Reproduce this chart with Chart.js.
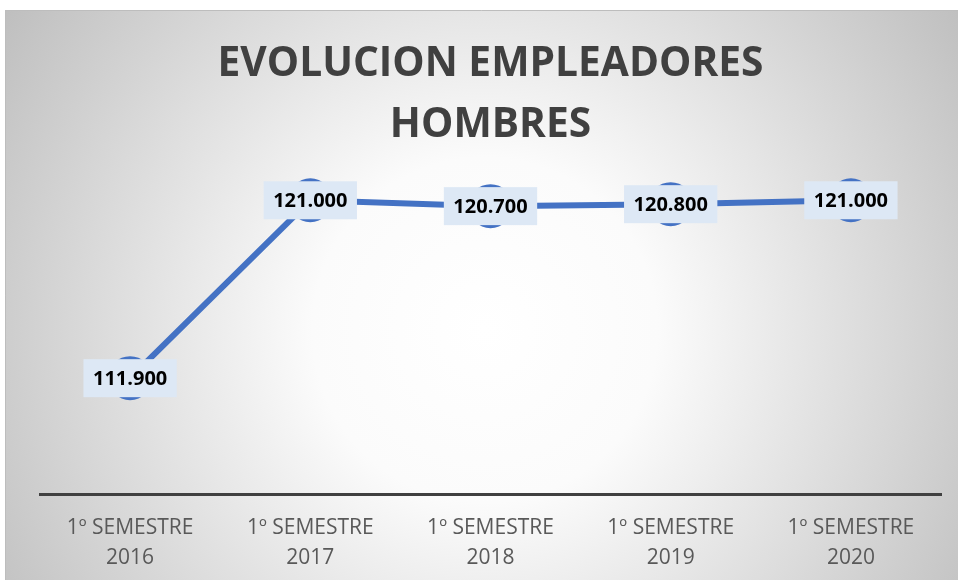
<!DOCTYPE html>
<html>
<head>
<meta charset="utf-8">
<script src="https://cdn.jsdelivr.net/npm/chart.js@4/dist/chart.umd.min.js"></script>
<style>
  html, body { margin: 0; padding: 0; background: #fff; }
  #wrap { width: 958px; height: 580px; position: relative; }
</style>
</head>
<body>
<div id="wrap"><canvas id="chart"></canvas></div>
<script>
// data
const semestres = [
    ['1º SEMESTRE', '2016'],
    ['1º SEMESTRE', '2017'],
    ['1º SEMESTRE', '2018'],
    ['1º SEMESTRE', '2019'],
    ['1º SEMESTRE', '2020']
]
const empleadores = [111900, 121000, 120700, 120800, 121000]
const titulo = ['EVOLUCION EMPLEADORES', 'HOMBRES']

const blue = '#4472C4'
const fontName = "'Open Sans', 'Liberation Sans', sans-serif"

// 121000 -> "121.000"
function fmt(v) {
    return v.toLocaleString('de-DE')
}

const background = {
    id: 'background',
    beforeDraw(chart) {
        const ctx = chart.ctx
        ctx.save()
        ctx.fillStyle = '#ffffff'
        ctx.fillRect(0, 0, chart.width, chart.height)
        const g = ctx.createRadialGradient(485, 330, 0, 485, 330, 575)
        g.addColorStop(0, '#ffffff')
        g.addColorStop(0.3, '#fbfbfb')
        g.addColorStop(1, '#bfbfbf')
        ctx.fillStyle = g
        ctx.fillRect(5, 10, chart.width - 5, chart.height - 10)
        ctx.strokeStyle = '#bdbdbd'
        ctx.lineWidth = 1
        ctx.beginPath()
        ctx.moveTo(5.5, chart.height)
        ctx.lineTo(5.5, 10.5)
        ctx.lineTo(chart.width, 10.5)
        ctx.stroke()
        ctx.restore()
    }
}

const valueLabels = {
    id: 'valueLabels',
    afterDatasetsDraw(chart) {
        const ctx = chart.ctx
        const meta = chart.getDatasetMeta(0)
        ctx.save()
        ctx.font = "bold 20px " + fontName
        ctx.textAlign = 'center'
        ctx.textBaseline = 'middle'
        meta.data.forEach((pt, i) => {
            const txt = fmt(empleadores[i])
            const w = ctx.measureText(txt).width + 19
            const h = 38
            ctx.fillStyle = '#dde8f5'
            ctx.fillRect(pt.x - w / 2, pt.y - h / 2, w, h)
            ctx.fillStyle = '#000000'
            ctx.fillText(txt, pt.x, pt.y + 1)
        })
        ctx.restore()
    }
}

const ctx = document.getElementById('chart').getContext('2d')

new Chart(ctx, {
    type: 'line',
    data: {
        labels: semestres,
        datasets: [{
            data: empleadores,
            borderColor: blue,
            backgroundColor: blue,
            borderWidth: 6,
            pointRadius: 22,
            pointBackgroundColor: blue,
            pointBorderColor: blue,
            pointBorderWidth: 0,
            tension: 0
        }]
    },
    options: {
        responsive: true,
        maintainAspectRatio: false,
        animation: false,
        layout: {
            autoPadding: false,
            padding: { top: 0, left: 40, right: 17, bottom: 0 }
        },
        plugins: {
            legend: { display: false },
            tooltip: { enabled: false },
            title: {
                display: true,
                text: titulo,
                color: '#404040',
                font: { family: fontName, size: 40.7, weight: 'bold', lineHeight: 1.5 },
                padding: { top: 34, bottom: 8 }
            }
        },
        scales: {
            x: {
                offset: true,
                grid: { display: false, drawTicks: false },
                border: { display: true, color: '#404040', width: 3 },
                afterFit(scale) {
                    scale.height = 85.5
                },
                ticks: {
                    color: '#595959',
                    padding: 19,
                    maxRotation: 0,
                    font: { family: fontName, size: 21, lineHeight: 1.4 }
                }
            },
            y: {
                display: false,
                min: 105950,
                max: 122850
            }
        }
    },
    plugins: [background, valueLabels]
})
</script>
</body>
</html>
